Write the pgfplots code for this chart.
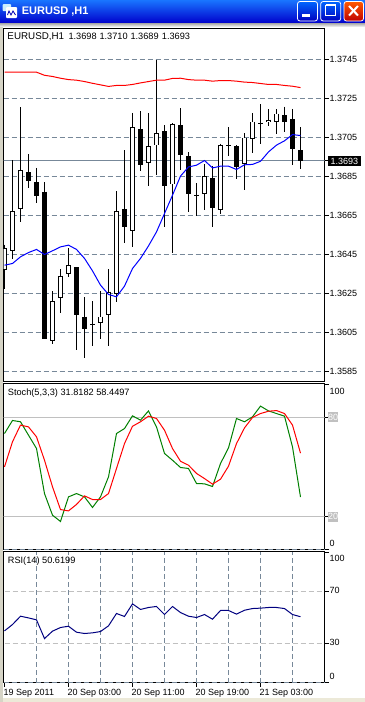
\documentclass[border=0pt]{standalone}
\usepackage{pgfplots}
\usepackage{pgfplotstable}
\usepackage{fontspec}
\setmainfont{Liberation Sans}
\pgfplotsset{compat=1.18}
\definecolor{slate}{HTML}{778899}
\definecolor{silv}{HTML}{C0C0C0}
\definecolor{beige}{HTML}{ECE9D8}
\pgfplotstableread{
i open high low close
0 1.36373 1.36501 1.36271 1.36481
1 1.36469 1.36934 1.36427 1.36671
2 1.36681 1.37204 1.36617 1.36881
6 1.36007 1.36262 1.35990 1.36209
7 1.36227 1.36375 1.36149 1.36342
8 1.36351 1.36482 1.36335 1.36394
12 1.36099 1.36262 1.36016 1.36132
13 1.36140 1.36375 1.35981 1.36260
14 1.36247 1.36775 1.36207 1.36671
16 1.36571 1.37176 1.36489 1.37103
18 1.36920 1.37175 1.36800 1.37004
19 1.37009 1.37450 1.36857 1.37071
21 1.36809 1.37123 1.36458 1.37121
25 1.36761 1.36913 1.36677 1.36852
27 1.36679 1.37019 1.36660 1.37011
30 1.36913 1.37071 1.36780 1.37050
31 1.37040 1.37175 1.36971 1.37132
33 1.37130 1.37195 1.37108 1.37142
34 1.37130 1.37195 1.37068 1.37173
}\candlesUp
\pgfplotstableread{
i open high low close
3 1.36871 1.36964 1.36792 1.36827
4 1.36821 1.36894 1.36713 1.36749
5 1.36773 1.36821 1.36017 1.36017
9 1.36385 1.36385 1.35959 1.36140
10 1.36132 1.36231 1.35918 1.36067
11 1.36094 1.36211 1.35981 1.36088
15 1.36682 1.36985 1.36508 1.36590
17 1.37093 1.37185 1.36877 1.36910
20 1.37082 1.37113 1.36592 1.36802
22 1.37113 1.37200 1.36882 1.36961
23 1.36954 1.36975 1.36669 1.36759
24 1.36757 1.36816 1.36646 1.36751
26 1.36841 1.36904 1.36592 1.36689
28 1.37010 1.37103 1.36954 1.37004
29 1.37005 1.37009 1.36838 1.36899
32 1.37125 1.37221 1.37016 1.37119
35 1.37164 1.37209 1.37077 1.37128
36 1.37144 1.37197 1.36908 1.36992
37 1.36985 1.37103 1.36887 1.36930
}\candlesDown
\pgfplotstableread{
i v
0 1.36395
1 1.36404
2 1.36438
3 1.36460
4 1.36476
5 1.36450
6 1.36469
7 1.36489
8 1.36498
9 1.36476
10 1.36430
11 1.36366
12 1.36293
13 1.36245
14 1.36233
15 1.36288
16 1.36378
17 1.36430
18 1.36494
19 1.36566
20 1.36660
21 1.36754
22 1.36852
23 1.36899
24 1.36908
25 1.36932
26 1.36894
27 1.36903
28 1.36903
29 1.36886
30 1.36910
31 1.36912
32 1.36928
33 1.36976
34 1.37011
35 1.37033
36 1.37065
37 1.37060
}\maBlue
\pgfplotstableread{
i v
0 1.37385
1 1.37385
2 1.37385
3 1.37385
4 1.37385
5 1.37369
6 1.37363
7 1.37354
8 1.37347
9 1.37344
10 1.37337
11 1.37328
12 1.37320
13 1.37312
14 1.37317
15 1.37317
16 1.37322
17 1.37330
18 1.37337
19 1.37344
20 1.37344
21 1.37353
22 1.37354
23 1.37347
24 1.37344
25 1.37344
26 1.37339
27 1.37342
28 1.37342
29 1.37339
30 1.37334
31 1.37332
32 1.37327
33 1.37322
34 1.37322
35 1.37317
36 1.37313
37 1.37306
}\maRed
\pgfplotstableread{
i g r
0 70.3 50.1
1 78.2 65.3
2 77.4 75.4
3 69.3 74.3
4 61.2 68.3
5 33.9 54.1
6 20.8 38.0
7 17.0 24.2
8 31.9 23.4
9 33.9 27.3
10 31.9 32.5
11 25.5 30.3
12 31.9 30.3
13 44.0 33.9
14 70.3 49.1
15 73.3 64.2
16 81.0 74.7
17 78.4 77.4
18 84.0 80.8
19 74.3 79.4
20 58.2 72.3
21 54.1 61.2
22 49.7 53.5
23 49.1 51.1
24 40.0 46.1
25 39.8 43.0
26 38.2 39.6
27 52.1 42.6
28 61.6 50.5
29 79.4 64.2
30 77.4 73.7
31 80.4 80.0
32 86.9 82.4
33 84.0 83.8
34 82.4 84.2
35 80.8 82.4
36 62.2 75.4
37 31.8 58.4
}\stoch
\pgfplotstableread{
i v
0 39.7
1 44.6
2 51.0
3 49.7
4 48.2
5 33.8
6 39.5
7 42.3
8 43.3
9 38.7
10 37.7
11 38.2
12 39.2
13 43.6
14 53.1
15 50.8
16 60.5
17 56.2
18 57.7
19 58.5
20 52.3
21 58.5
22 53.8
23 51.0
24 50.0
25 52.3
26 48.7
27 55.4
28 55.4
29 52.6
30 55.6
31 56.9
32 57.2
33 57.7
34 57.7
35 56.9
36 52.3
37 50.6
}\rsi
\pgfplotsset{
  panel/.style={
    scale only axis, anchor=south west, width=321bp,
    xmin=-0.125, xmax=40,
    axis line style={black,line width=1bp},
    minor xtick={4,8,12,16,20,24,28,32,36},
    xminorgrids=true,
    minor grid style={draw=slate,line width=1bp,dash pattern=on 5bp off 3bp},
    major grid style={draw=slate,line width=1bp,dash pattern=on 5bp off 3bp},
    minor tick length=0pt,
    tick align=outside, major tick length=4bp,
    tick style={black,line width=1bp},
    ytick pos=right, yticklabel pos=right,
    tick label style={font=\fontsize{9bp}{10bp}\selectfont},
    yticklabel style={anchor=west,inner xsep=0pt,inner ysep=0pt,xshift=1bp},
    clip=true,
  },
  wick/.style={draw=none,no marks,forget plot,
    error bars/.cd,y dir=minus,y explicit,error mark=none,
    error bar style={line width=1bp,black}},
  body/.style={draw=none,no marks,forget plot,
    error bars/.cd,y dir=minus,y explicit,error mark=none,
    error bar style={line width=5bp,black}},
  inner/.style={draw=none,no marks,forget plot,
    error bars/.cd,y dir=minus,y explicit,error mark=none,
    error bar style={line width=3bp,white}},
}
\begin{document}
\begin{tikzpicture}
\useasboundingbox (0,0) rectangle (365bp,-702bp);
% window chrome
\fill[white] (0,0) rectangle (365bp,-702bp);
\fill[beige] (0,-698bp) rectangle (365bp,-702bp);
\fill[beige!80!gray] (0,-23bp) rectangle (2.6bp,-702bp);
\shade[top color=blue!60!cyan!90!white, middle color=blue!85!cyan, bottom color=blue!80!black, shading angle=0]
  (0,0) rectangle (365bp,-23bp);
\shade[top color=gray!70, bottom color=gray!20] (0,-23bp) rectangle (365bp,-26bp);
% title icon
\fill[cyan!20,rounded corners=1bp] (2.5bp,-4bp) rectangle (11bp,-11bp);
\fill[white,rounded corners=1bp] (6bp,-7bp) rectangle (17bp,-18bp);
\draw[blue!70!black,line width=.8bp] (7.5bp,-15bp) -- (9bp,-11bp) -- (11bp,-15bp) -- (13bp,-11bp) -- (15.5bp,-15bp);
% title text
\node[anchor=west,inner sep=0pt,text=white,font=\fontsize{11bp}{13bp}\selectfont\bfseries] at (21.7bp,-11.5bp) {EURUSD ,H1};
% buttons
\shade[top color=blue!60!cyan,bottom color=blue!75!black,rounded corners=2.5bp,draw=white,line width=.8bp] (297.5bp,-1.5bp) rectangle (317.5bp,-21bp);
\fill[white] (301.7bp,-14bp) rectangle (310bp,-17bp);
\shade[top color=blue!60!cyan,bottom color=blue!75!black,rounded corners=2.5bp,draw=white,line width=.8bp] (320.7bp,-1.5bp) rectangle (340.7bp,-21bp);
\draw[white,line width=1bp] (325.5bp,-5bp) rectangle (335.5bp,-15bp);
\draw[white,line width=2bp] (325.5bp,-5bp) -- (335.5bp,-5bp);
\shade[top color=orange!70!red,bottom color=red!75!black,rounded corners=2.5bp,draw=white,line width=.8bp] (344bp,-1.5bp) rectangle (363.5bp,-21bp);
\draw[white,line width=2bp] (349bp,-6bp) -- (358bp,-15.5bp) (358bp,-6bp) -- (349bp,-15.5bp);

% price panel
\begin{axis}[panel,
  at={(3.5bp,-381.5bp)}, height=353bp,
  ymin=1.357987, ymax=1.37609,
  xtick=\empty,
  ymajorgrids=true,
  ytick={1.3585,1.3605,1.3625,1.3645,1.3665,1.3685,1.3705,1.3725,1.3745},
  yticklabels={1.3585,1.3605,1.3625,1.3645,1.3665,1.3685,1.3705,1.3725,1.3745},
  extra y ticks={1.3693},
  extra y tick labels={1.3693},
  extra y tick style={grid=none,yticklabel style={fill=black,text=white,inner xsep=3bp,inner ysep=2bp,xshift=-2bp}},
]
\addplot[slate,line width=1bp,forget plot] coordinates {(-1,1.3693) (41,1.3693)};
\addplot[wick] table[x=i,y=high,y error minus expr=\thisrow{high}-\thisrow{low}] {\candlesUp};
\addplot[wick] table[x=i,y=high,y error minus expr=\thisrow{high}-\thisrow{low}] {\candlesDown};
\addplot[body] table[x=i,y=close,y error minus expr=\thisrow{close}-\thisrow{open}] {\candlesUp};
\addplot[body] table[x=i,y=open,y error minus expr=\thisrow{open}-\thisrow{close}] {\candlesDown};
\addplot[inner] table[x=i,y expr=\thisrow{close}-0.00005,y error minus expr=\thisrow{close}-\thisrow{open}-0.0001] {\candlesUp};
\addplot[blue,line width=1bp] table[x=i,y=v] {\maBlue};
\addplot[red,line width=1bp] table[x=i,y=v] {\maRed};
\end{axis}

% stochastic panel
\setlength\fboxsep{0bp}
\begin{axis}[panel,
  at={(3.5bp,-549.5bp)}, height=166bp,
  ymin=0, ymax=100.6,
  xtick=\empty,
  ytick={0,20,80,100},
  yticklabels={\raisebox{3.5bp}[0pt][0pt]{0},\hspace{-1.5bp}\colorbox{silv}{\rule[-2bp]{0pt}{10bp}\textcolor{white}{20}},\hspace{-1.5bp}\colorbox{silv}{\rule[-2bp]{0pt}{10bp}\textcolor{white}{80}},\raisebox{-10bp}[0pt][0pt]{100}},
]
\addplot[silv,line width=1bp,forget plot] coordinates {(-1,80) (41,80)};
\addplot[silv,line width=1bp,forget plot] coordinates {(-1,20) (41,20)};
\addplot[green!50!black,line width=1bp] table[x=i,y=g] {\stoch};
\addplot[red,line width=1bp] table[x=i,y=r] {\stoch};
\end{axis}

% RSI panel
\begin{axis}[panel,
  at={(3.5bp,-682.5bp)}, height=131bp,
  ymin=0, ymax=100.77,
  xtick={0,8,16,24,32},
  xticklabels={19 Sep 2011,20 Sep 03:00,20 Sep 11:00,20 Sep 19:00,21 Sep 03:00},
  xtick pos=bottom,
  xticklabel style={anchor=north west,inner sep=0pt,xshift=-1bp,yshift=-3bp},
  ytick={0,30,70,100},
  yticklabels={\raisebox{3.5bp}[0pt][0pt]{0},\raisebox{-2bp}[0pt][0pt]{30},\raisebox{-2bp}[0pt][0pt]{70},\raisebox{-9bp}[0pt][0pt]{100}},
]
\addplot[silv,line width=1bp,dash pattern=on 5bp off 3bp,forget plot] coordinates {(-1,70) (41,70)};
\addplot[silv,line width=1bp,dash pattern=on 5bp off 3bp,forget plot] coordinates {(-1,30) (41,30)};
\addplot[blue!50!black,line width=1bp] table[x=i,y=v] {\rsi};
\end{axis}

% dashed zero lines on panel bottoms
\draw[slate,line width=1bp,dash pattern=on 5bp off 3bp] (3.5bp,-549bp) -- (324.5bp,-549bp);
\draw[slate,line width=1bp,dash pattern=on 5bp off 3bp] (3.5bp,-682bp) -- (324.5bp,-682bp);

% panel captions
\begin{scope}[every node/.style={anchor=west,inner sep=0pt,font=\fontsize{9.2bp}{10bp}\selectfont}]
\node[font=\fontsize{9.8bp}{10bp}\selectfont] at (7.3bp,-36.5bp) {EURUSD,H1};
\node at (68.3bp,-36.5bp) {1.3698};
\node at (99.3bp,-36.5bp) {1.3710};
\node at (130.3bp,-36.5bp) {1.3689};
\node at (161.7bp,-36.5bp) {1.3693};
\node at (7.7bp,-393.5bp) {Stoch(5,3,3) 31.8182 58.4497};
\node at (7.7bp,-561.5bp) {RSI(14) 50.6199};
\end{scope}
\end{tikzpicture}
\end{document}
